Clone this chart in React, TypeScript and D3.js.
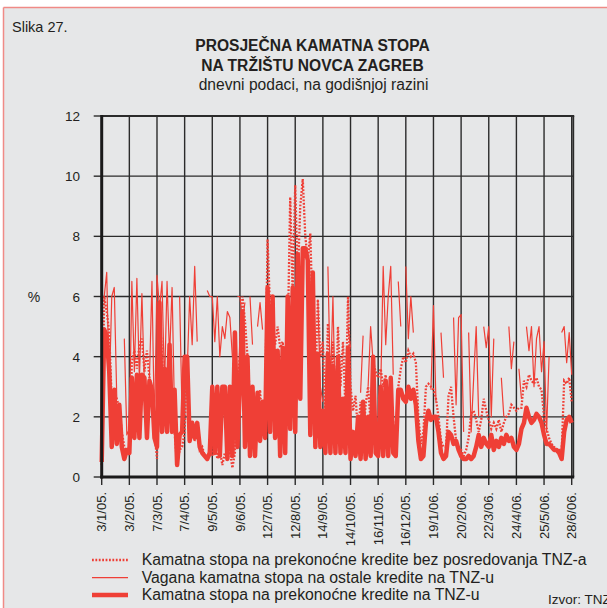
import React from "react";
import * as d3 from "d3";

const xLabels = [
  "3/1/05.", "3/2/05.", "7/3/05.", "7/4/05.", "9/5/05.", "9/6/05.", "12/7/05.", "12/8/05.",
  "14/9/05.", "14/10/05.", "16/11/05.", "16/12/05.", "19/1/06.", "20/2/06.", "22/3/06.",
  "24/4/06.", "25/5/06.", "28/6/06.",
];
const yTicks = [0, 2, 4, 6, 8, 10, 12];
const pointsPerLabel = 11;

// Kamatna stopa na prekonoćne kredite na TNZ-u (thick)
const overnightTNZ: number[] = [
  0.5, 4.9, 4.7, 3.5, 1.0, 2.9, 1.1, 2.4, 1.0, 0.6, 0.9,
  0.8, 3.3, 1.3, 3.4, 1.3, 3.4, 3.3, 1.3, 3.2, 2.9, 1.3,
  1.0, 5.8, 1.5, 3.6, 1.5, 4.4, 1.5, 2.9, 0.4, 1.4, 1.5,
  4.0, 4.0, 1.2, 1.8, 1.3, 1.8, 1.0, 0.8, 0.7, 0.6, 0.8,
  3.0, 0.8, 3.0, 0.7, 3.0, 3.0, 0.6, 3.0, 0.7, 4.8, 1.0,
  3.1, 5.5, 1.0, 4.0, 0.7, 3.0, 0.7, 2.8, 1.2, 2.5, 1.3,
  6.3, 1.5, 6.0, 1.3, 4.2, 0.7, 4.3, 0.8, 6.0, 1.6, 6.3,
  1.5, 7.4, 2.6, 7.6, 7.6, 7.2, 1.4, 6.8, 1.0, 4.1, 1.0,
  2.2, 0.8, 4.1, 0.8, 3.7, 0.8, 4.0, 0.8, 2.6, 0.8, 4.3,
  0.6, 1.5, 0.7, 2.0, 0.6, 2.5, 0.6, 2.0, 0.7, 4.0, 0.8,
  0.7, 3.0, 0.7, 3.2, 0.7, 3.3, 0.8, 0.7, 2.9, 2.9, 2.6,
  2.5, 3.0, 2.6, 2.9, 2.4, 1.2, 0.6, 0.7, 1.8, 2.2, 1.9,
  2.0, 2.0, 1.5, 0.8, 0.6, 0.7, 1.5, 1.4, 1.1, 1.2, 0.9,
  0.7, 0.6, 0.6, 0.7, 0.6, 0.7, 1.0, 1.4, 1.0, 1.3, 1.1,
  1.0, 1.4, 0.9, 1.2, 1.0, 1.3, 1.1, 1.4, 1.2, 1.3, 1.0,
  0.9, 1.1, 1.6, 1.8, 2.3, 2.0, 1.8, 1.9, 2.1, 2.0, 1.8,
  1.4, 1.1, 1.1, 1.0, 0.9, 0.9, 0.8, 0.6, 1.5, 1.9, 2.0,
  1.8,
];

// Kamatna stopa na prekonoćne kredite bez posredovanja TNZ-a (dotted)
const overnightDirect: number[] = [
  0.4, 6.0, 5.5, 4.8, 2.5, 2.8, 2.6, 2.3, 1.5, 1.0, 0.8,
  1.0, 3.8, 4.2, 3.6, 4.4, 4.6, 3.5, 4.2, 3.3, 2.5, 1.5,
  0.6, 5.6, 4.0, 2.5, 3.0, 4.0, 1.8, 1.5, 0.4, 0.9, 1.0,
  1.5, 3.9, 1.5, 1.7, 1.2, 1.6, 0.9, 1.0, 0.7, 0.6, 0.9,
  0.7, 1.2, 0.6, 0.9, 0.4, 0.8, 0.6, 0.9, 0.3, 0.8, 3.0,
  4.0, 6.0, 5.2, 4.0, 2.6, 2.8, 2.0, 1.6, 2.9, 1.6, 2.3,
  7.9, 5.5, 4.8, 4.4, 5.0, 4.3, 4.5, 3.0, 4.5, 9.3, 6.0,
  9.7, 6.5, 9.0, 9.9, 8.0, 7.2, 8.1, 5.0, 3.0, 5.9, 4.0,
  4.5, 2.0, 5.1, 2.5, 4.5, 1.5, 5.0, 3.0, 4.5, 2.2, 6.0,
  3.0, 2.2, 2.7, 1.4, 2.5, 1.2, 2.4, 3.0, 1.8, 3.8, 3.5,
  3.3, 3.6, 3.0, 3.4, 2.0, 2.6, 1.8, 1.2, 3.0, 3.6, 4.0,
  3.8, 4.2, 4.0, 4.1, 3.8, 2.0, 1.1, 1.5, 3.0, 3.1, 3.0,
  2.9, 2.6, 2.0, 1.2, 1.0, 1.0, 2.7, 3.0, 2.0, 1.2, 1.0,
  0.9, 0.7, 0.9, 1.3, 2.1, 2.2, 1.9, 1.5, 1.9, 2.6, 2.2,
  1.9, 1.6, 1.8, 1.6, 1.9, 1.5, 1.8, 2.0, 2.1, 2.4, 2.3,
  2.2, 2.3, 2.3, 3.2, 3.0, 3.4, 3.2, 3.1, 3.3, 3.0, 2.9,
  2.0, 1.6, 1.3, 1.1, 1.0, 0.9, 0.9, 0.8, 3.2, 3.1, 3.3,
  2.5,
];

// Vagana kamatna stopa na ostale kredite na TNZ-u (thin)
const otherWeighted: (number | null)[] = [
  6.0, 6.0, 6.8, 2.8, 6.0, 6.3, 2.6, null, null, 4.6, 1.4,
  1.6, 6.5, 3.5, 6.6, 3.2, 6.1, 3.0, null, 3.3, 6.5, 1.5,
  6.7, 5.6, 6.5, 3.0, 6.5, 4.0, 6.3, 2.0, null, 6.0, 2.0,
  null, 3.5, 6.0, 4.4, 7.0, 4.5, null, null, null, 6.2, 6.0,
  6.0, 4.5, 6.0, 4.0, 5.0, 4.6, 5.5, 5.3, 4.0, null, 6.0,
  6.0, 5.2, 5.8, null, 6.0, 4.4, null, 5.0, 5.8, 4.9, null,
  6.0, null, 6.0, null, null, 4.0, null, 4.3, null, null, 4.0,
  null, null, null, null, null, null, null, null, null, 5.9, 3.0,
  2.5, null, 7.0, 3.0, 6.0, 2.0, 4.0, null, 4.2, null, 5.0,
  4.3, null, 3.3, null, 2.8, 4.7, null, 3.0, 5.0, 3.8, null,
  2.6, 2.9, 7.0, 4.4, 6.0, 7.0, 3.4, null, 6.5, 5.0, null,
  7.0, 4.6, 6.0, 4.8, null, 2.8, null, null, 3.5, null, 2.9,
  5.7, 2.5, null, 4.8, 3.3, null, 3.2, null, 5.3, 2.4, 5.3,
  5.4, 1.5, null, 4.8, 1.5, 3.3, 5.0, 2.0, null, 5.0, 4.3,
  5.0, 2.0, 4.6, null, null, 3.3, 2.0, null, 5.0, 3.6, 4.5,
  null, 3.6, 2.6, null, 5.0, 4.2, 5.0, 3.0, 4.6, 5.0, 3.5,
  4.5, 1.5, 4.0, null, null, 3.6, null, 4.8, 5.0, 3.8, 4.8,
  3.4,
];

const legendItems = [
  { label: "Kamatna stopa na prekonoćne kredite bez posredovanja TNZ-a", kind: "dotted" },
  { label: "Vagana kamatna stopa na ostale kredite na TNZ-u", kind: "thin" },
  { label: "Kamatna stopa na prekonoćne kredite na TNZ-u", kind: "thick" },
];

const RED = "#ef3f36";
const GRID = "#2b2b2b";
const FONT = "'Liberation Sans', Arial, Helvetica, sans-serif";

export default function App() {
  const W = 607;
  const H = 608;
  const lastTick = (xLabels.length - 1) * pointsPerLabel;
  const x = d3.scaleLinear().domain([0, lastTick]).range([101.7, 571.7]);
  const y = d3.scaleLinear().domain([0, 12]).range([477, 116]);
  const left = x(0);
  const right = x(lastTick + 0.64);
  const top = y(12);
  const bottom = y(0);

  const line = d3
    .line<number | null>()
    .defined((d) => d != null)
    .x((_, i) => x(i))
    .y((d) => y(d as number));

  const tickIdx = xLabels.map((_, i) => i * pointsPerLabel);

  return (
    <div style={{ position: "absolute", left: 0, top: 0 }}>
      <svg width={W} height={H} style={{ display: "block" }} fontFamily={FONT}>
        <rect x={0} y={0} width={W} height={H} fill="#ffffff" />
        <rect x={3.5} y={7.5} width={W} height={H} fill="#e6e7e8" />
        <line x1={3.5} y1={7.5} x2={W} y2={7.5} stroke="#f08a86" strokeWidth={1.5} />
        <line x1={3.5} y1={7.5} x2={3.5} y2={H} stroke="#f08a86" strokeWidth={1.5} />

        <text x={12} y={32} fontSize={14.5} fill="#231f20">Slika 27.</text>
        <text x={312.5} y={51} fontSize={15.6} fontWeight="bold" textAnchor="middle" fill="#231f20">
          PROSJEČNA KAMATNA STOPA
        </text>
        <text x={312.5} y={70.5} fontSize={15.6} fontWeight="bold" textAnchor="middle" fill="#231f20">
          NA TRŽIŠTU NOVCA ZAGREB
        </text>
        <text x={313.5} y={89.5} fontSize={15.6} textAnchor="middle" fill="#231f20">
          dnevni podaci, na godišnjoj razini
        </text>

        {/* grid */}
        {yTicks.map((t) => (
          <line key={"gy" + t} x1={left} x2={right} y1={y(t)} y2={y(t)} stroke={GRID} strokeWidth={1.4} />
        ))}
        {tickIdx.map((i) => (
          <line key={"gx" + i} x1={x(i)} x2={x(i)} y1={top} y2={bottom} stroke={GRID} strokeWidth={1.4} />
        ))}
        <line x1={right} x2={right} y1={top} y2={bottom} stroke={GRID} strokeWidth={1.8} />
        <line x1={left} x2={right + 0.9} y1={top} y2={top} stroke={GRID} strokeWidth={1.8} />

        {/* ticks */}
        {yTicks.map((t) => (
          <line key={"ty" + t} x1={left - 8} x2={left} y1={y(t)} y2={y(t)} stroke={GRID} strokeWidth={1.4} />
        ))}
        {tickIdx.map((i) => (
          <line key={"tx" + i} x1={x(i)} x2={x(i)} y1={bottom} y2={bottom + 8} stroke={GRID} strokeWidth={1.4} />
        ))}

        {/* series */}
        <path d={line(otherWeighted) || ""} fill="none" stroke={RED} strokeWidth={1.2} strokeLinejoin="round" />
        <path
          d={line(overnightDirect) || ""}
          fill="none"
          stroke={RED}
          strokeWidth={2.3}
          strokeDasharray="1.8,1.6"
        />
        <path d={line(overnightTNZ) || ""} fill="none" stroke={RED} strokeWidth={4.5} strokeLinejoin="round" />

        {/* axes */}
        <line x1={left} x2={left} y1={top - 1} y2={bottom + 1.5} stroke="#1a1a1a" strokeWidth={3} />
        <line x1={left - 1.5} x2={right + 0.9} y1={bottom} y2={bottom} stroke="#1a1a1a" strokeWidth={3} />

        {/* y labels */}
        {yTicks.map((t) => (
          <text key={"ly" + t} x={80} y={y(t) + 5} fontSize={13.5} textAnchor="end" fill="#231f20">
            {t}
          </text>
        ))}
        <text x={34} y={302} fontSize={14} textAnchor="middle" fill="#231f20">%</text>

        {/* x labels */}
        {tickIdx.map((i, k) => (
          <text
            key={"lx" + i}
            transform={`translate(${x(i) + 4.6},${492}) rotate(-90)`}
            fontSize={13}
            textAnchor="end"
            fill="#231f20"
          >
            {xLabels[k]}
          </text>
        ))}

        {/* legend */}
        {legendItems.map((it, k) => {
          const ly = [560, 577.7, 595][k];
          const by = [565, 583.3, 599.5][k];
          return (
            <g key={it.label}>
              <line
                x1={92}
                x2={128}
                y1={ly}
                y2={ly}
                stroke={RED}
                strokeWidth={it.kind === "thick" ? 4.5 : it.kind === "thin" ? 1.2 : 2.3}
                strokeDasharray={it.kind === "dotted" ? "1.8,1.6" : undefined}
              />
              <text x={141.7} y={by} fontSize={15.8} fill="#231f20">
                {it.label}
              </text>
            </g>
          );
        })}
        <text x={548} y={604} fontSize={13.5} fill="#231f20">Izvor: TNZ</text>
      </svg>
    </div>
  );
}
